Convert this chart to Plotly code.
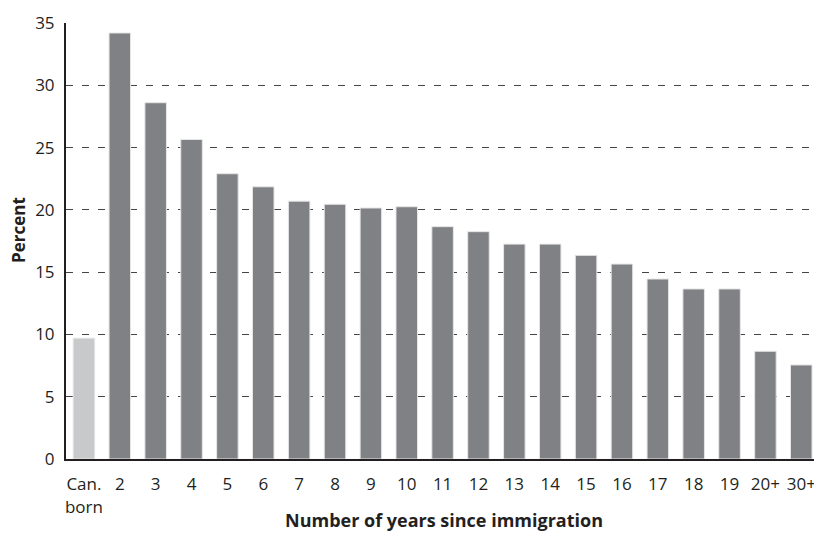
import plotly.graph_objects as go

categories = ["Can.<br>born", "2", "3", "4", "5", "6", "7", "8", "9", "10", "11",
              "12", "13", "14", "15", "16", "17", "18", "19", "20+", "30+"]
values = [9.7, 34.2, 28.6, 25.65, 22.9, 21.85, 20.7, 20.45, 20.15, 20.25, 18.65,
          18.25, 17.25, 17.25, 16.35, 15.65, 14.45, 13.65, 13.65, 8.65, 7.55]
bar_colors = ["#c8c9cb"] + ["#808184"] * 20
y_ticks = [0, 5, 10, 15, 20, 25, 30, 35]

FONT = "Open Sans, Noto Sans, sans-serif"

# page body has an 8px default margin; compensate
OFF = 8
W, H = 822 - OFF, 541 - OFF
ML, MR, MT, MB = 66 - OFF, 1, 23 - OFF, 82

fig = go.Figure()
fig.add_trace(go.Bar(
    x=list(range(len(categories))), y=values,
    marker=dict(color=bar_colors, line=dict(color="#e6e6e6", width=1)),
    width=0.6,
))

fig.update_layout(
    width=W, height=H,
    margin=dict(l=ML, r=MR, t=MT, b=MB),
    paper_bgcolor="white", plot_bgcolor="white",
    showlegend=False,
    font=dict(family=FONT, size=17, color="#231f20"),
    xaxis=dict(
        tickmode="array", tickvals=list(range(len(categories))), ticktext=categories,
        range=[-0.5, 20.55], showgrid=False, zeroline=False,
        showline=True, linecolor="#231f20", linewidth=2,
        ticks="", ticklabelstandoff=9, automargin=False,
    ),
    yaxis=dict(
        range=[0, 35], tickvals=y_ticks,
        showgrid=True, gridcolor="#444444", griddash="7px,9px", gridwidth=1,
        zeroline=False, showline=True, linecolor="#231f20", linewidth=2,
        ticks="", ticklabelstandoff=6, automargin=False,
    ),
)

pw, ph = W - ML - MR, H - MT - MB


def px_to_paper(x, y):
    # x, y are target-window pixel coordinates
    return (x - OFF - ML) / pw, (H - MB - (y - OFF)) / ph


ax, ay = px_to_paper(444, 520)
bx, by = px_to_paper(18, 230)
fig.add_annotation(text="<b>Number of years since immigration</b>", x=ax, y=ay,
                   xref="paper", yref="paper", showarrow=False,
                   xanchor="center", yanchor="middle", font=dict(size=18))
fig.add_annotation(text="<b>Percent</b>", x=bx, y=by, textangle=-90,
                   xref="paper", yref="paper", showarrow=False,
                   xanchor="center", yanchor="middle", font=dict(size=17))

fig.write_html("out.html")
